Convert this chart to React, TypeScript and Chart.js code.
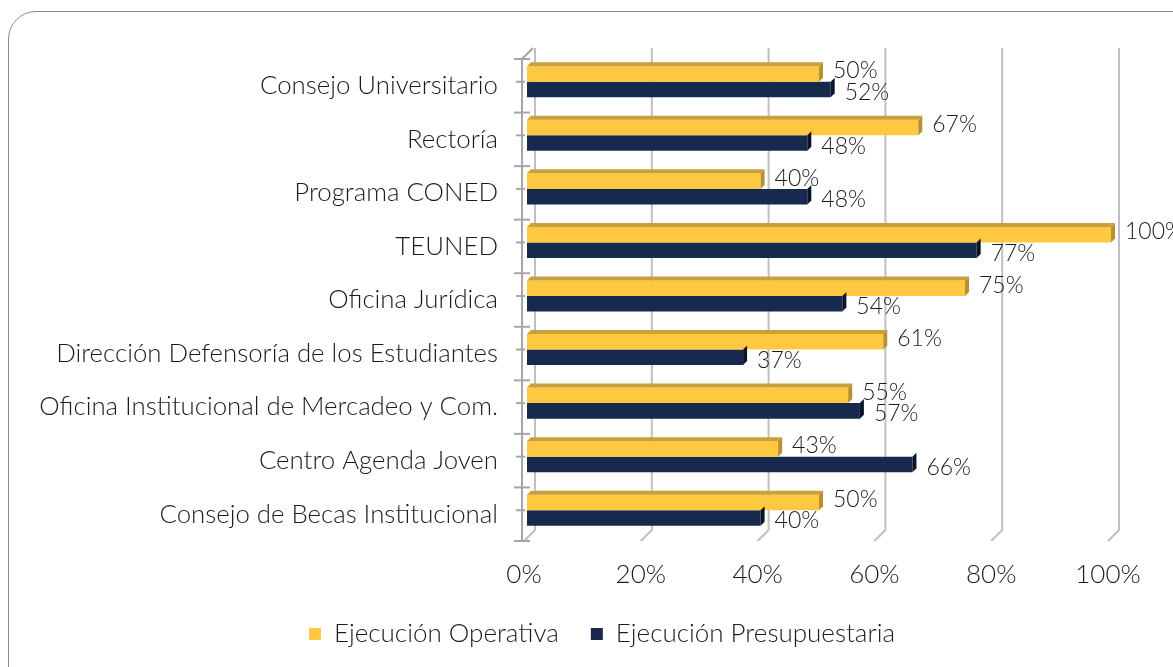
import React, { useEffect, useRef } from "react";
import { Chart, registerables } from "chart.js";

Chart.register(...registerables);

const categories = [
  "Consejo Universitario",
  "Rectoría",
  "Programa CONED",
  "TEUNED",
  "Oficina Jurídica",
  "Dirección Defensoría de los Estudiantes",
  "Oficina Institucional de Mercadeo y Com.",
  "Centro Agenda Joven",
  "Consejo de Becas Institucional",
];
const operativa = [50, 67, 40, 100, 75, 61, 55, 43, 50];
const presupuestaria = [52, 48, 48, 77, 54, 37, 57, 66, 40];
const seriesNames = ["Ejecución Operativa", "Ejecución Presupuestaria"];
const xTicks = [0, 20, 40, 60, 80, 100];

const FRONT = ["#FFC841", "#172A4D"];
const TOP = ["#C9A03A", "#0E1B33"];
const SIDE = ["#B8902C", "#0B1528"];
const TXT = "#1c1c1c";
const FONT = "Lato";
const WEIGHT = "300";
const DEPTH = 11;
const BAR_DX = 3;
const BAR_DY = -4;
const FACE = 4;
const LEGEND_SHIFT = 38;

const frame3d = {
  id: "frame3d",
  afterLayout(chart: any) {
    const lg = chart.legend;
    if (lg) {
      lg.left += LEGEND_SHIFT;
      lg.right += LEGEND_SHIFT;
    }
  },
  beforeDatasetsDraw(chart: any) {
    const { ctx, chartArea, scales } = chart;
    const xs = scales.x;
    const ys = scales.y;
    ctx.save();
    ctx.lineWidth = 2;
    ctx.strokeStyle = "#C0C0C0";
    xTicks.forEach((v) => {
      const x = xs.getPixelForValue(v);
      ctx.beginPath();
      ctx.moveTo(x + DEPTH, chartArea.top - DEPTH);
      ctx.lineTo(x + DEPTH, chartArea.bottom - DEPTH);
      ctx.lineTo(x, chartArea.bottom);
      ctx.stroke();
    });
    // left axis
    ctx.strokeStyle = "#A6A6A6";
    const x0 = xs.getPixelForValue(0) - 2;
    ctx.beginPath();
    ctx.moveTo(x0 + DEPTH, chartArea.top - DEPTH);
    ctx.lineTo(x0, chartArea.top);
    ctx.lineTo(x0, chartArea.bottom);
    ctx.stroke();
    const n = categories.length;
    for (let i = 0; i <= n; i++) {
      const y = chartArea.top + ((chartArea.bottom - chartArea.top) * i) / n;
      ctx.beginPath();
      ctx.moveTo(x0 - 8, y);
      ctx.lineTo(x0 + 8, y);
      ctx.stroke();
    }
    for (let i = 0; i < n; i++) {
      const y = ys.getPixelForValue(i) - 4;
      ctx.beginPath();
      ctx.moveTo(x0 - 6, y);
      ctx.lineTo(x0 + 3, y);
      ctx.stroke();
    }
    ctx.restore();
    ctx.save();
    ctx.translate(BAR_DX, BAR_DY);
  },
  afterDatasetsDraw(chart: any) {
    const { ctx } = chart;
    chart.data.datasets.forEach((ds: any, di: number) => {
      const meta = chart.getDatasetMeta(di);
      meta.data.forEach((el: any) => {
        const p = el.getProps(["x", "y", "base", "height"], true);
        const x1 = p.x;
        const x0 = p.base;
        const yt = p.y - p.height / 2;
        const yb = p.y + p.height / 2;
        if (di === 0) {
          ctx.fillStyle = TOP[di];
          ctx.beginPath();
          ctx.moveTo(x0, yt);
          ctx.lineTo(x0 + FACE, yt - FACE);
          ctx.lineTo(x1 + FACE, yt - FACE);
          ctx.lineTo(x1, yt);
          ctx.closePath();
          ctx.fill();
        }
        ctx.fillStyle = SIDE[di];
        ctx.beginPath();
        ctx.moveTo(x1, yt);
        ctx.lineTo(x1 + FACE, yt - FACE);
        ctx.lineTo(x1 + FACE, yb - FACE);
        ctx.lineTo(x1, yb);
        ctx.closePath();
        ctx.fill();
      });
    });
    ctx.font = `${WEIGHT} 23px ${FONT}`;
    ctx.fillStyle = TXT;
    ctx.textAlign = "left";
    ctx.textBaseline = "middle";
    chart.data.datasets.forEach((ds: any, di: number) => {
      const meta = chart.getDatasetMeta(di);
      meta.data.forEach((el: any, i: number) => {
        const p = el.getProps(["x", "y"], true);
        const dy = di === 0 ? -3 : 3;
        ctx.fillText(ds.data[i] + "%", p.x + FACE + 10, p.y + dy);
      });
    });
    ctx.restore();
  },
};

export default function App() {
  const ref = useRef<HTMLCanvasElement | null>(null);
  useEffect(() => {
    if (!ref.current) return;
    Chart.defaults.font.family = FONT;
    const chart = new Chart(ref.current, {
      type: "bar",
      data: {
        labels: categories,
        datasets: [
          {
            label: seriesNames[0],
            data: operativa,
            backgroundColor: FRONT[0],
            borderWidth: 0,
            categoryPercentage: 0.58,
            barPercentage: 1,
          },
          {
            label: seriesNames[1],
            data: presupuestaria,
            backgroundColor: FRONT[1],
            borderWidth: 0,
            categoryPercentage: 0.58,
            barPercentage: 1,
          },
        ],
      },
      options: {
        indexAxis: "y",
        animation: false,
        responsive: false,
        maintainAspectRatio: false,
        clip: false as any,
        layout: { padding: { left: 20, right: 65, top: 59, bottom: 10 } },
        plugins: {
          tooltip: { enabled: false },
          legend: {
            position: "bottom",
            labels: {
              boxWidth: 12,
              boxHeight: 12,
              padding: 32,
              color: TXT,
              font: { size: 26, weight: WEIGHT as any },
            },
          },
        },
        scales: {
          x: {
            min: 0,
            max: 100,
            afterFit: (s: any) => {
              s.height = 48;
            },
            afterBuildTicks: (s: any) => {
              s.ticks = xTicks.map((v) => ({ value: v }));
            },
            grid: { display: false, drawTicks: false },
            border: { display: false },
            ticks: {
              padding: 21,
              color: TXT,
              font: { size: 26, weight: WEIGHT as any, lineHeight: 1 },
              callback: (v: any) => v + "%",
            },
          },
          y: {
            afterFit: (s: any) => {
              s.width = 504;
            },
            grid: { display: false, drawTicks: false },
            border: { display: false },
            ticks: {
              padding: 26,
              color: TXT,
              font: { size: 25.8, weight: WEIGHT as any },
            },
          },
        },
      },
      plugins: [frame3d],
    });
    return () => chart.destroy();
  }, []);
  return (
    <div
      style={{
        position: "fixed",
        left: 0,
        top: 0,
        width: 1173,
        height: 667,
        overflow: "hidden",
        background: "#fff",
      }}
    >
      <div
        style={{
          position: "absolute",
          left: 8,
          top: 11,
          width: 1250,
          height: 720,
          border: "1px solid #8a8a8a",
          borderRadius: 28,
          boxSizing: "border-box",
        }}
      />
      <canvas
        ref={ref}
        width={1173}
        height={667}
        style={{ position: "absolute", left: 0, top: 0 }}
      />
    </div>
  );
}
